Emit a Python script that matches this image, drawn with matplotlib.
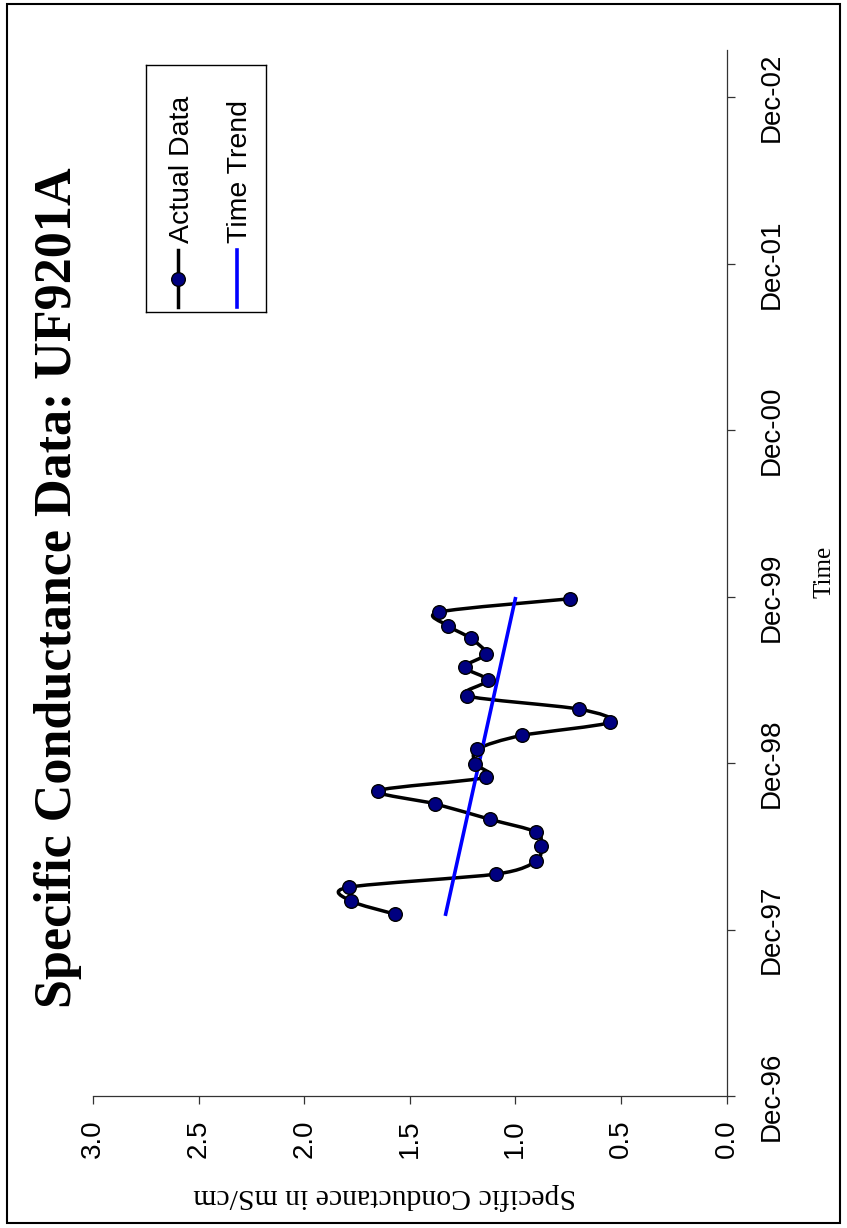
import numpy as np
import matplotlib
matplotlib.use("Agg")
import matplotlib.pyplot as plt
import matplotlib.dates as mdates
from matplotlib.path import Path
from matplotlib.patches import PathPatch, Rectangle
from matplotlib.lines import Line2D

# sampling dates and specific conductance (mS/cm) for well UF9201A
sample_dates = ["1998-01-04", "1998-02-02", "1998-03-04", "1998-04-02", "1998-05-01",
                "1998-06-03", "1998-07-03", "1998-07-31", "1998-09-03", "1998-10-02",
                "1998-10-31", "1998-11-30", "1999-01-01", "1999-01-31", "1999-03-01",
                "1999-03-30", "1999-04-28", "1999-06-01", "1999-06-30", "1999-07-29",
                "1999-09-01", "1999-09-29", "1999-10-29", "1999-11-27"]
conductance = [1.57, 1.78, 1.79, 1.09, 0.90, 0.88, 0.90, 1.12, 1.38, 1.65,
               1.14, 1.19, 1.18, 0.97, 0.55, 0.70, 1.23, 1.13, 1.24, 1.14,
               1.21, 1.32, 1.36, 0.74]

# linear time trend, start and end values
trend_values = [1.33, 1.00]

tick_dates = ["1996-12-01", "1997-12-01", "1998-12-01", "1999-12-01",
              "2000-12-01", "2001-12-01", "2002-12-01"]
tick_labels = ["Dec-96", "Dec-97", "Dec-98", "Dec-99", "Dec-00", "Dec-01", "Dec-02"]
cond_ticks = [0.0, 0.5, 1.0, 1.5, 2.0, 2.5, 3.0]

SANS = "Liberation Sans"
SERIF = "Liberation Serif"

W, H = 847, 1228
fig = plt.figure(figsize=(W / 100, H / 100), dpi=100)


def fx(px):
    return px / W


def fy(py):
    return 1 - py / H


# chart is laid out sideways: time runs up the page, conductance right-to-left
ax = fig.add_axes([fx(93), fy(1096), fx(726.5) - fx(93), fy(50) - fy(1096)])

t = mdates.date2num(np.array(sample_dates, dtype="datetime64[D]"))
v = np.array(conductance)

# smoothed connecting line (cubic Bezier through the samples)
pts = np.column_stack([v, t])
verts = [pts[0]]
codes = [Path.MOVETO]
n = len(pts)
k = 1 / 7
for i in range(n - 1):
    p0 = pts[i - 1] if i > 0 else pts[i]
    p1, p2 = pts[i], pts[i + 1]
    p3 = pts[i + 2] if i + 2 < n else pts[i + 1]
    verts += [p1 + (p2 - p0) * k, p2 - (p3 - p1) * k, p2]
    codes += [Path.CURVE4] * 3
ax.add_patch(PathPatch(Path(verts, codes), fill=False, ec="black", lw=2.5,
                       capstyle="round", joinstyle="round", zorder=2))

ax.plot(trend_values, [t[0], t[-1]], color="#0000ff", lw=2.6, zorder=3)
ax.plot(v, t, "o", ms=9.8, mfc="#000080", mec="black", mew=1.0, zorder=4)

ax.set_xlim(3.0, 0.0)
ax.set_ylim(mdates.date2num(np.datetime64("1996-12-01")),
            mdates.date2num(np.datetime64("2003-03-15")))

for s in ["left", "top"]:
    ax.spines[s].set_visible(False)
for s in ["bottom", "right"]:
    ax.spines[s].set_color("#333333")
    ax.spines[s].set_linewidth(0.9)

ax.yaxis.tick_right()
ax.set_yticks(mdates.date2num(np.array(tick_dates, dtype="datetime64[D]")))
ax.set_yticklabels(tick_labels, rotation=90, va="center", ha="left",
                   family=SANS, fontsize=20)
ax.set_xticks(cond_ticks)
ax.set_xticklabels([f"{c:.1f}" for c in cond_ticks], rotation=90, va="top",
                   ha="center", family=SANS, fontsize=20)
ax.tick_params(axis="y", direction="out", length=6, width=0.9, color="#333333", pad=17)
ax.tick_params(axis="x", direction="out", length=6, width=0.9, color="#333333", pad=11)
ax.patch.set_alpha(0)

fig.text(fx(58), fy(588), "Specific Conductance Data: UF9201A", rotation=90,
         ha="center", va="center", family=SERIF, weight="bold", fontsize=37.5)
fig.text(fx(824), fy(572), "Time", rotation=90, ha="center", va="center",
         family=SERIF, fontsize=18)
fig.text(fx(385), fy(1196), "Specific Conductance in mS/cm", rotation=180,
         ha="center", va="center", family=SERIF, fontsize=21.4)

# legend box, drawn sideways to match the chart
lax = fig.add_axes([fx(146), fy(312), fx(266) - fx(146), fy(65) - fy(312)])
lax.set_xlim(146, 266)
lax.set_ylim(312, 65)
lax.set_xticks([])
lax.set_yticks([])
for s in lax.spines.values():
    s.set_color("black")
    s.set_linewidth(1.0)
lax.add_line(Line2D([178, 178], [250, 307], color="black", lw=2.5))
lax.add_line(Line2D([178], [278.5], marker="o", ms=9.8, mfc="#000080", mec="black", mew=1.0))
lax.add_line(Line2D([237, 237], [250, 307], color="#0000ff", lw=2.6))
lax.text(182, 243, "Actual Data", rotation=90, ha="center", va="bottom",
         family=SANS, fontsize=20.5)
lax.text(240, 243, "Time Trend", rotation=90, ha="center", va="bottom",
         family=SANS, fontsize=20.5)

# outer frame
fig.add_artist(Rectangle((fx(7), fy(1223)), fx(840) - fx(7), fy(4) - fy(1223),
                         transform=fig.transFigure, fill=False, ec="black", lw=1.5))

fig.savefig("out.png", dpi=100)
